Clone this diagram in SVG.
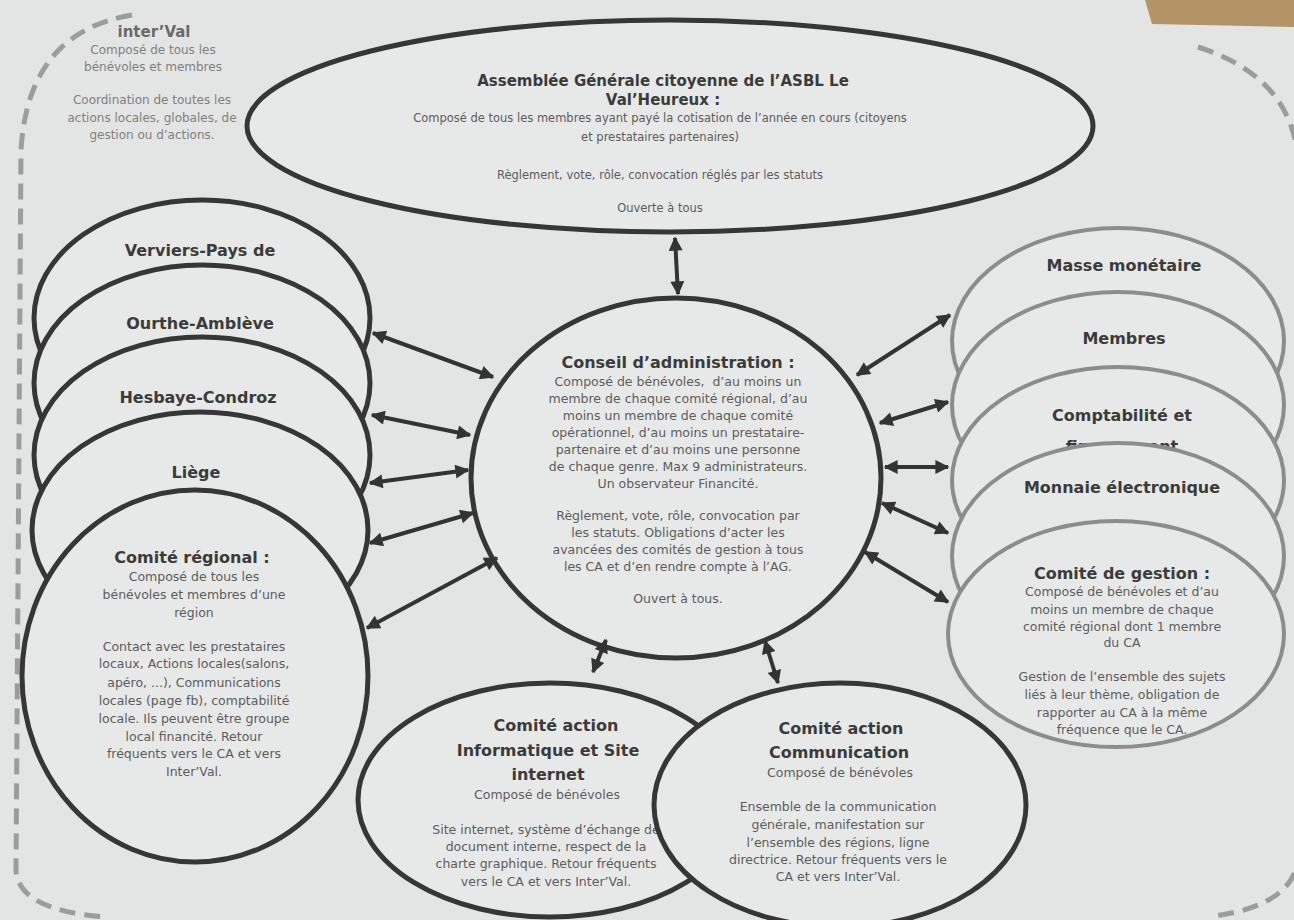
<svg xmlns="http://www.w3.org/2000/svg" width="1294" height="920" viewBox="0 0 1294 920">
<style>
.t{font-family:"DejaVu Sans","Noto Sans",sans-serif;text-anchor:middle}
.h{font-weight:bold;font-size:16px;fill:#3b3b3b}
.hs{font-weight:bold;font-size:15px;fill:#3b3b3b}
.b{font-size:12.5px;fill:#5c5c5c}
.bs{font-size:11.5px;fill:#5c5c5c}
.iv{font-size:12px;fill:#808080}
.ivh{font-weight:bold;font-size:15px;fill:#6a6a6a}
.dk{fill:#e7e9e8;stroke:#363636;stroke-width:5}
.gr{fill:#e7e9e8;stroke:#8c8c8c;stroke-width:4}
.bd{fill:none;stroke:#9c9c9c;stroke-width:5;stroke-dasharray:16 9}
.ar{fill:none;stroke:#333;stroke-width:4;marker-start:url(#ah);marker-end:url(#ah)}
</style>
<defs>
<marker id="ah" viewBox="0 0 10 10" refX="9" refY="5" markerWidth="18" markerHeight="14" markerUnits="userSpaceOnUse" orient="auto-start-reverse">
<path d="M0,0 L10,5 L0,10 z" fill="#333"/>
</marker>
</defs>
<rect x="0" y="0" width="1294" height="920" fill="#e3e5e4"/>
<path d="M1145,0 L1294,0 L1294,27 L1152,24 z" fill="#b39466"/>

<g id="interval">
<path class="bd" d="M132,15 Q28,32 21,150 L16,870 Q18,910 105,917"/>
<path class="bd" d="M1198,47 Q1286,75 1297,150 L1298,860 Q1292,905 1215,916"/>
<text class="t ivh" x="154" y="37">inter’Val</text>
<text class="t iv" x="153" y="54">Composé de tous les</text>
<text class="t iv" x="153" y="71">bénévoles et membres</text>
<text class="t iv" x="152" y="104">Coordination de toutes les</text>
<text class="t iv" x="152" y="122">actions locales, globales, de</text>
<text class="t iv" x="152" y="139">gestion ou d’actions.</text>
</g>

<g id="verviers">
<ellipse class="dk" cx="202" cy="318" rx="168" ry="118"/>
<text class="t h" x="200" y="256">Verviers-Pays de</text>
</g>
<g id="ourthe">
<ellipse class="dk" cx="202" cy="383" rx="168" ry="118"/>
<text class="t h" x="200" y="329">Ourthe-Amblève</text>
</g>
<g id="hesbaye">
<ellipse class="dk" cx="202" cy="455" rx="168" ry="118"/>
<text class="t h" x="198" y="403">Hesbaye-Condroz</text>
</g>
<g id="liege">
<ellipse class="dk" cx="200" cy="530" rx="168" ry="118"/>
<text class="t h" x="196" y="478">Liège</text>
</g>
<g id="comite-regional">
<ellipse class="dk" cx="195" cy="676" rx="173" ry="186"/>
<text class="t h" x="192" y="563">Comité régional :</text>
<text class="t b" x="194" y="581">Composé de tous les</text>
<text class="t b" x="194" y="599">bénévoles et membres d’une</text>
<text class="t b" x="194" y="617">région</text>
<text class="t b" x="194" y="651">Contact avec les prestataires</text>
<text class="t b" x="194" y="668">locaux, Actions locales(salons,</text>
<text class="t b" x="194" y="687">apéro, ...), Communications</text>
<text class="t b" x="194" y="705">locales (page fb), comptabilité</text>
<text class="t b" x="194" y="723">locale. Ils peuvent être groupe</text>
<text class="t b" x="194" y="741">local financité. Retour</text>
<text class="t b" x="194" y="758">fréquents vers le CA et vers</text>
<text class="t b" x="194" y="776">Inter’Val.</text>
</g>

<g id="masse">
<ellipse class="gr" cx="1118" cy="341" rx="166" ry="113"/>
<text class="t h" x="1124" y="271">Masse monétaire</text>
</g>
<g id="membres">
<ellipse class="gr" cx="1118" cy="405" rx="166" ry="113"/>
<text class="t h" x="1124" y="344">Membres</text>
</g>
<g id="comptabilite">
<ellipse class="gr" cx="1118" cy="480" rx="166" ry="113"/>
<text class="t h" x="1122" y="421">Comptabilité et</text>
<text class="t h" x="1122" y="452">financement</text>
</g>
<g id="monnaie">
<ellipse class="gr" cx="1118" cy="556" rx="166" ry="113"/>
<text class="t h" x="1122" y="493">Monnaie électronique</text>
</g>
<g id="comite-gestion">
<ellipse class="gr" cx="1116" cy="634" rx="168" ry="113"/>
<text class="t h" x="1122" y="579">Comité de gestion :</text>
<text class="t b" x="1122" y="596">Composé de bénévoles et d’au</text>
<text class="t b" x="1122" y="614">moins un membre de chaque</text>
<text class="t b" x="1122" y="631">comité régional dont 1 membre</text>
<text class="t b" x="1122" y="647">du CA</text>
<text class="t b" x="1122" y="681">Gestion de l’ensemble des sujets</text>
<text class="t b" x="1122" y="699">liés à leur thème, obligation de</text>
<text class="t b" x="1122" y="717">rapporter au CA à la même</text>
<text class="t b" x="1122" y="734">fréquence que le CA.</text>
</g>

<g id="informatique">
<ellipse class="dk" cx="550" cy="800" rx="192" ry="117"/>
<text class="t h" x="556" y="731">Comité action</text>
<text class="t h" x="548" y="756">Informatique et Site</text>
<text class="t h" x="548" y="780">internet</text>
<text class="t b" x="547" y="799">Composé de bénévoles</text>
<text class="t b" x="546" y="834">Site internet, système d’échange de</text>
<text class="t b" x="546" y="851">document interne, respect de la</text>
<text class="t b" x="546" y="868">charte graphique. Retour fréquents</text>
<text class="t b" x="546" y="886">vers le CA et vers Inter’Val.</text>
</g>
<g id="communication">
<ellipse class="dk" cx="840" cy="805" rx="186" ry="122"/>
<text class="t h" x="841" y="734">Comité action</text>
<text class="t h" x="839" y="758">Communication</text>
<text class="t b" x="840" y="777">Composé de bénévoles</text>
<text class="t b" x="838" y="811">Ensemble de la communication</text>
<text class="t b" x="838" y="829">générale, manifestation sur</text>
<text class="t b" x="838" y="847">l’ensemble des régions, ligne</text>
<text class="t b" x="838" y="864">directrice. Retour fréquents vers le</text>
<text class="t b" x="838" y="881">CA et vers Inter’Val.</text>
</g>

<g id="assemblee">
<ellipse class="dk" cx="670" cy="126" rx="423" ry="106"/>
<text class="t hs" x="663" y="86">Assemblée Générale citoyenne de l’ASBL Le</text>
<text class="t hs" x="663" y="105">Val’Heureux :</text>
<text class="t bs" x="660" y="122">Composé de tous les membres ayant payé la cotisation de l’année en cours (citoyens</text>
<text class="t bs" x="660" y="141">et prestataires partenaires)</text>
<text class="t bs" x="660" y="179">Règlement, vote, rôle, convocation réglés par les statuts</text>
<text class="t bs" x="660" y="212">Ouverte à tous</text>
</g>

<g id="conseil">
<ellipse class="dk" cx="676" cy="478" rx="205" ry="180"/>
<text class="t h" x="678" y="368">Conseil d’administration :</text>
<text class="t b" x="678" y="386">Composé de bénévoles,&#160; d’au moins un</text>
<text class="t b" x="678" y="403">membre de chaque comité régional, d’au</text>
<text class="t b" x="678" y="420">moins un membre de chaque comité</text>
<text class="t b" x="678" y="437">opérationnel, d’au moins un prestataire-</text>
<text class="t b" x="678" y="454">partenaire et d’au moins une personne</text>
<text class="t b" x="678" y="471">de chaque genre. Max 9 administrateurs.</text>
<text class="t b" x="678" y="488">Un observateur Financité.</text>
<text class="t b" x="678" y="520">Règlement, vote, rôle, convocation par</text>
<text class="t b" x="678" y="537">les statuts. Obligations d’acter les</text>
<text class="t b" x="678" y="554">avancées des comités de gestion à tous</text>
<text class="t b" x="678" y="571">les CA et d’en rendre compte à l’AG.</text>
<text class="t b" x="678" y="603">Ouvert à tous.</text>
</g>

<g id="connectors">
<path class="ar" d="M675,238 L678,294"/>
<path class="ar" d="M373,333 L493,377"/>
<path class="ar" d="M372,415 L470,435"/>
<path class="ar" d="M370,483 L468,470"/>
<path class="ar" d="M370,543 L473,513"/>
<path class="ar" d="M367,628 L497,558"/>
<path class="ar" d="M857,375 L950,315"/>
<path class="ar" d="M880,423 L948,402"/>
<path class="ar" d="M885,467 L948,467"/>
<path class="ar" d="M882,503 L948,533"/>
<path class="ar" d="M865,552 L948,602"/>
<path class="ar" d="M606,640 L593,672"/>
<path class="ar" d="M765,641 L778,683"/>
</g>
</svg>
